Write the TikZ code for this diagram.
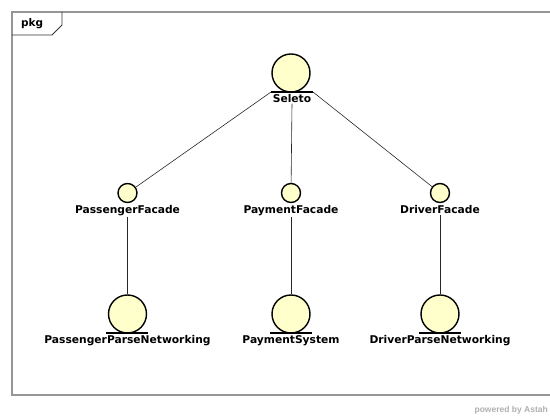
\documentclass[tikz,border=0pt]{standalone}
\usepackage{fontspec}
\setmainfont{DejaVu Sans}
\newfontfamily\creditfont{Liberation Sans}
\definecolor{ifill}{RGB}{255,255,204}
\definecolor{framegray}{RGB}{150,150,150}
\definecolor{credit}{RGB}{175,175,175}
\begin{document}
\begin{tikzpicture}[x=1pt,y=-1pt,
  bigif/.style={circle,draw=black,line width=1.4pt,fill=ifill,inner sep=0pt,minimum size=38pt},
  smallif/.style={circle,draw=black,line width=1.4pt,fill=ifill,inner sep=0pt,minimum size=19pt},
  lbl/.style={font=\bfseries\fontsize{10.7}{12}\selectfont,inner sep=1pt},
  base/.style={line width=1.2pt,black},
  link/.style={line width=0.6pt,black!85}]
\useasboundingbox (0,0) rectangle (550,419);
% package frame
\draw[framegray,line width=1.6pt] (600,12) -- (12,12) -- (12,395) -- (600,395);
\node[anchor=west,font=\bfseries\fontsize{10.5}{12}\selectfont,inner sep=0pt] (pkg) at (21,24) {pkg};
\draw[black!80,line width=0.8pt] (12,35) -- (52,35) -- (62,25) -- (62,12);

% top interface
\node[bigif] (sel) at (291,73) {};
\coordinate (selL) at (271,92);
\coordinate (selR) at (313,92);
\draw[base] (selL) -- (selR);
\node[lbl,anchor=north] (selT) at (292,93) {Seleto};

% facades
\node[smallif] (pf) at (127.5,193) {};
\node[lbl,anchor=north] (pfT) at (127.5,204) {PassengerFacade};
\node[smallif] (yf) at (291,193) {};
\node[lbl,anchor=north] (yfT) at (291,204) {PaymentFacade};
\node[smallif] (df) at (440,193) {};
\node[lbl,anchor=north] (dfT) at (440,204) {DriverFacade};

% lower interfaces
\node[bigif] (pn) at (127.5,314) {};
\coordinate (pnL) at (106,333);
\coordinate (pnR) at (148,333);
\draw[base] (pnL) -- (pnR);
\node[lbl,anchor=north] (pnT) at (127.5,334) {PassengerParseNetworking};

\node[bigif] (ps) at (291,314) {};
\coordinate (psL) at (270,333);
\coordinate (psR) at (312,333);
\draw[base] (psL) -- (psR);
\node[lbl,anchor=north] (psT) at (291,334) {PaymentSystem};

\node[bigif] (dn) at (440,314) {};
\coordinate (dnL) at (419,333);
\coordinate (dnR) at (461,333);
\draw[base] (dnL) -- (dnR);
\node[lbl,anchor=north] (dnT) at (440,334) {DriverParseNetworking};

% connectors
\draw[link] (selL) -- (pf);
\draw[link] (selT.south) -- (yf);
\draw[link] (selR) -- (df);
\draw[link] (pfT.south) -- (pn);
\draw[link] (yfT.south) -- (ps);
\draw[link] (dfT.south) -- (dn);

% credit line
\node[anchor=east,text=credit,font=\creditfont\bfseries\fontsize{8.5}{10}\selectfont,inner sep=0pt] (cr) at (548,410) {powered by Astah};
\end{tikzpicture}
\end{document}
